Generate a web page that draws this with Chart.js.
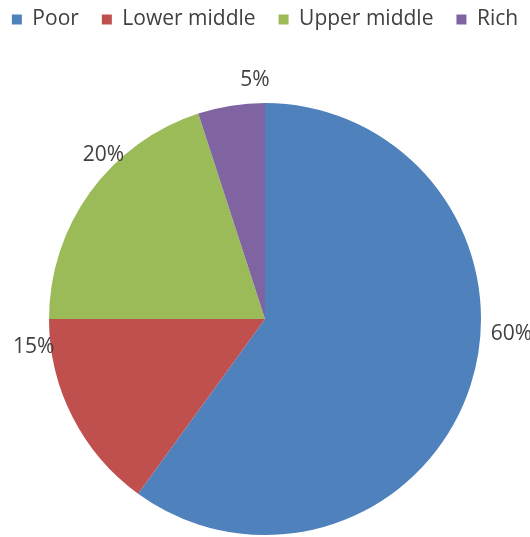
<!DOCTYPE html>
<html>
<head>
<meta charset="utf-8">
<script src="https://cdn.jsdelivr.net/npm/chart.js@4"></script>
<style>
  html, body { margin: 0; padding: 0; background: #fff; }
  #wrap { width: 530px; height: 537px; }
</style>
</head>
<body>
<div id="wrap"><canvas id="myChart"></canvas></div>
<script>
const categories = ['Poor', 'Lower middle', 'Upper middle', 'Rich'];
const shares = [60, 15, 20, 5];
const sliceColors = ['#4F81BD', '#C0504D', '#9BBB59', '#8064A2'];

const ctx = document.getElementById('myChart').getContext('2d');

// keep the legend on one row, push the pie down below it, lift the legend a bit
const legendGap = {
    id: 'legendGap',
    beforeInit(chart) {
        const origFit = chart.legend.fit;
        chart.legend.fit = function() {
            this.maxWidth += 40;
            origFit.bind(chart.legend)();
            this.height += 49;
        };
    },
    afterLayout(chart) {
        const lg = chart.legend;
        lg.top -= 14;
        lg.bottom -= 14;
        lg.left -= 20;
        lg.right += 20;
        lg.width += 40;
    }
};

// percent labels outside the slices (Excel "best fit" style placement)
const outsideLabels = {
    id: 'outsideLabels',
    afterDatasetsDraw(chart, args, opts) {
        const c = chart.ctx;
        const meta = chart.getDatasetMeta(0);
        c.save();
        c.font = '21px "Open Sans"';
        c.fillStyle = '#404040';
        c.textAlign = 'center';
        c.textBaseline = 'middle';
        meta.data.forEach(function(arc, i) {
            const a = opts.angles[i] * Math.PI / 180;
            const r = arc.outerRadius + opts.offsets[i];
            const x = arc.x + Math.sin(a) * r;
            const y = arc.y - Math.cos(a) * r;
            c.fillText(shares[i] + '%', x, y);
        });
        c.restore();
    }
};

const myChart = new Chart(ctx, {
    type: 'pie',
    data: {
        labels: categories,
        datasets: [{
            data: shares,
            backgroundColor: sliceColors,
            borderWidth: 0
        }]
    },
    options: {
        responsive: true,
        maintainAspectRatio: false,
        animation: false,
        layout: { padding: { top: 0, bottom: 2, left: 0, right: 0 } },
        plugins: {
            legend: {
                position: 'top',
                labels: {
                    boxWidth: 10,
                    boxHeight: 10,
                    padding: 23,
                    color: '#404040',
                    font: { family: '"Open Sans"', size: 21 }
                }
            },
            tooltip: { enabled: false },
            outsideLabels: {
                angles: [93.5, 263, 315.4, -2.4],
                offsets: [31, 17, 14, 23]
            }
        }
    },
    plugins: [legendGap, outsideLabels]
});
</script>
</body>
</html>
